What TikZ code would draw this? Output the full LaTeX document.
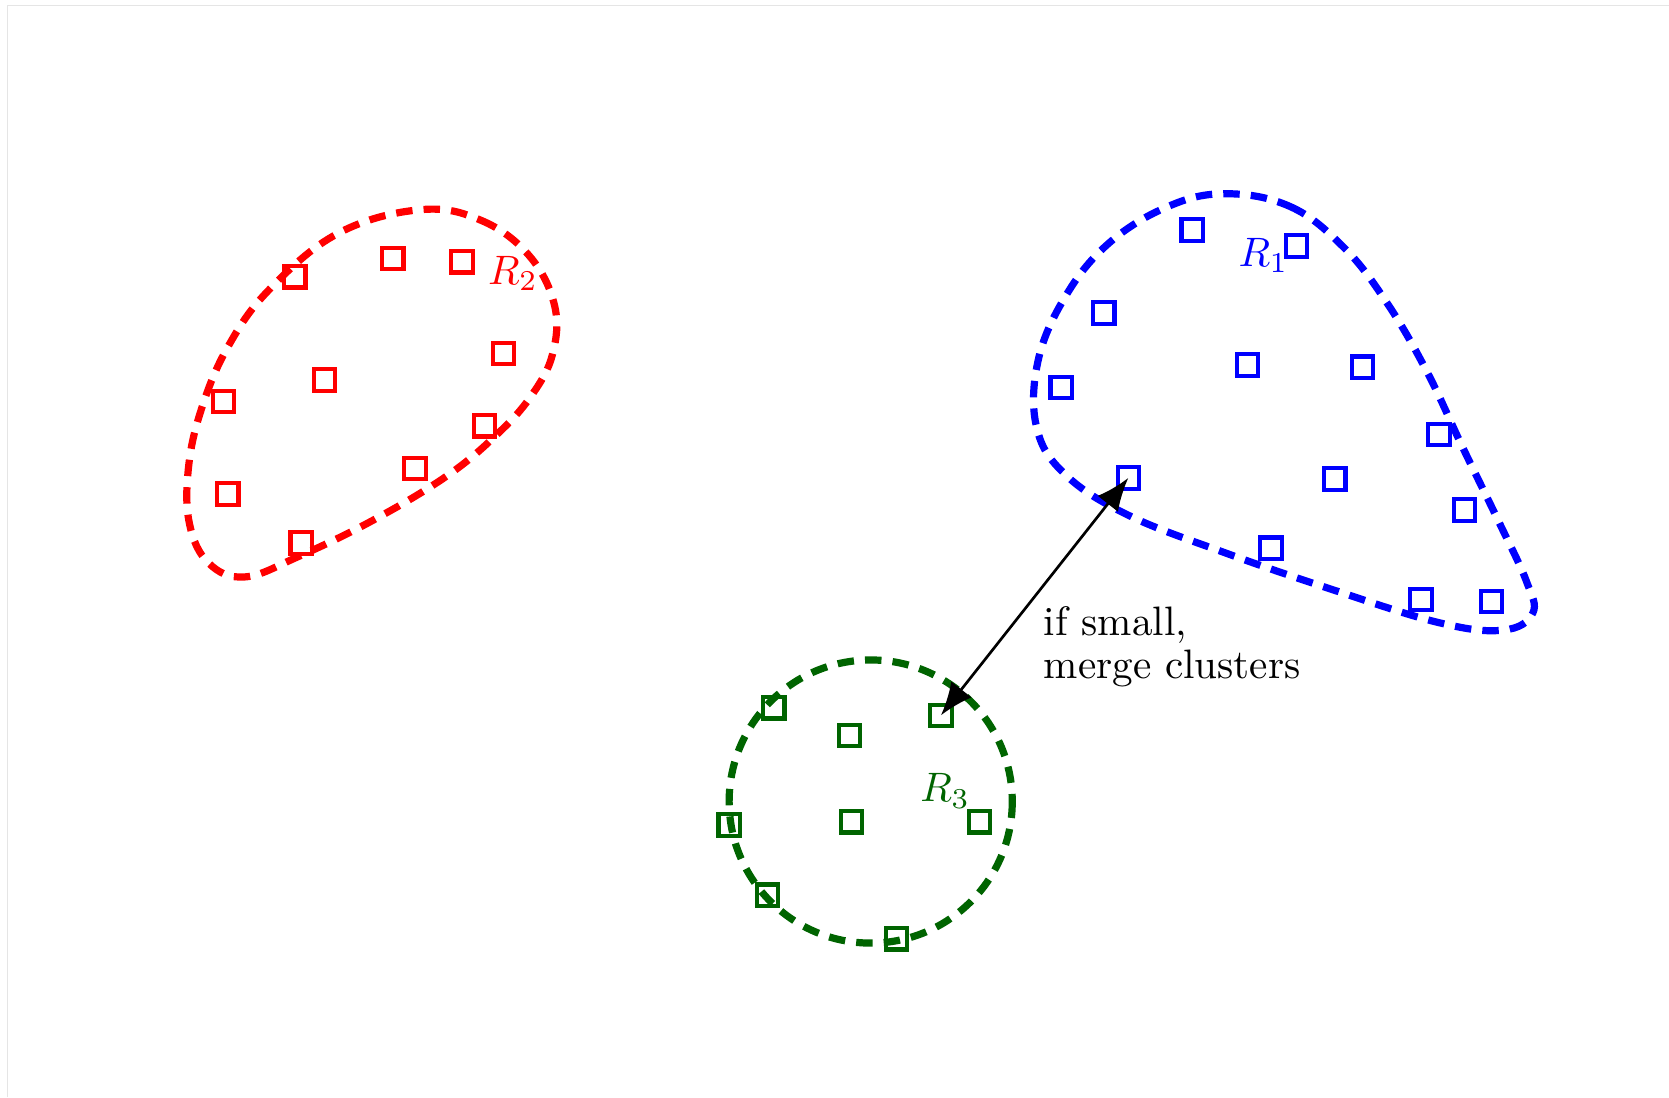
\documentclass[tikz,border=0pt]{standalone}
\usetikzlibrary{arrows.meta}
\definecolor{clred}{rgb}{1,0,0}
\definecolor{clblue}{rgb}{0,0,1}
\definecolor{clgreen}{RGB}{0,100,0}
\begin{document}
\begin{tikzpicture}[x=0.0091cm,y=-0.0091cm,
  sq/.style={draw,line width=1pt,minimum size=5.2pt,inner sep=0pt,outer sep=0pt},
  hull/.style={line width=1.75pt,dash pattern=on 4pt off 2.7pt},
  lbl/.style={inner sep=0pt},
  >={Latex[length=8pt,width=6.3pt]}]
\useasboundingbox (0,0) rectangle (1568,1031);
\draw[gray!20,line width=0.4pt] (7,1031) -- (7,5) -- (1568,5);

% cluster R2
\draw[hull,clred] plot[smooth cycle,tension=0.65] coordinates {
  (395,197) (452,207) (497,240) (521,287) (519,333) (499,372) (467,408)
  (420,447) (350,489) (280,523) (230,542) (196,529) (178,492) (177,440)
  (189,385) (214,326) (253,272) (318,219)};
\foreach \n/\p in {1/{277,260},2/{369,243},3/{434,246},4/{473,332},5/{305,357},
  6/{210,377},7/{455,400},8/{390,440},9/{214,464},10/{283,510}}
  \node[sq,clred] (r\n) at (\p) {};
\node[lbl,clred] (lr2) at (482,257) {$R_2$};

% cluster R1
\draw[hull,clblue] plot[smooth cycle,tension=0.65] coordinates {
  (1150,182) (1212,194) (1262,232) (1302,283) (1340,348) (1374,420)
  (1408,490) (1434,546) (1440,576) (1412,592) (1352,585) (1252,554)
  (1150,519) (1060,484) (1001,446) (974,402) (975,340) (1000,280)
  (1040,230) (1095,195)};
\foreach \n/\p in {1/{1120,216},2/{1218,231},3/{1037,294},4/{997,364},5/{1172,343},
  6/{1280,345},7/{1352,408},8/{1060,449},9/{1254,450},10/{1376,479},
  11/{1194,515},12/{1335,563},13/{1401,565}}
  \node[sq,clblue] (b\n) at (\p) {};
\node[lbl,clblue] (lr1) at (1187,240) {$R_1$};

% cluster R3
\draw[hull,clgreen] (818,753) circle[radius=133];
\foreach \n/\p in {1/{727,665},2/{798,691},3/{884,672},4/{685,775},5/{800,772},
  6/{920,772},7/{721,841},8/{842,882}}
  \node[sq,clgreen] (g\n) at (\p) {};
\node[lbl,clgreen] (lr3) at (888,743) {$R_3$};

% distance between the two clusters
\draw[line width=0.65pt,<->] (b8.center) -- (g3.center);
\node[lbl,anchor=north west,align=left] (note) at (980,569)
  {if small,\\[-1.6pt]merge clusters};
\end{tikzpicture}
\end{document}
